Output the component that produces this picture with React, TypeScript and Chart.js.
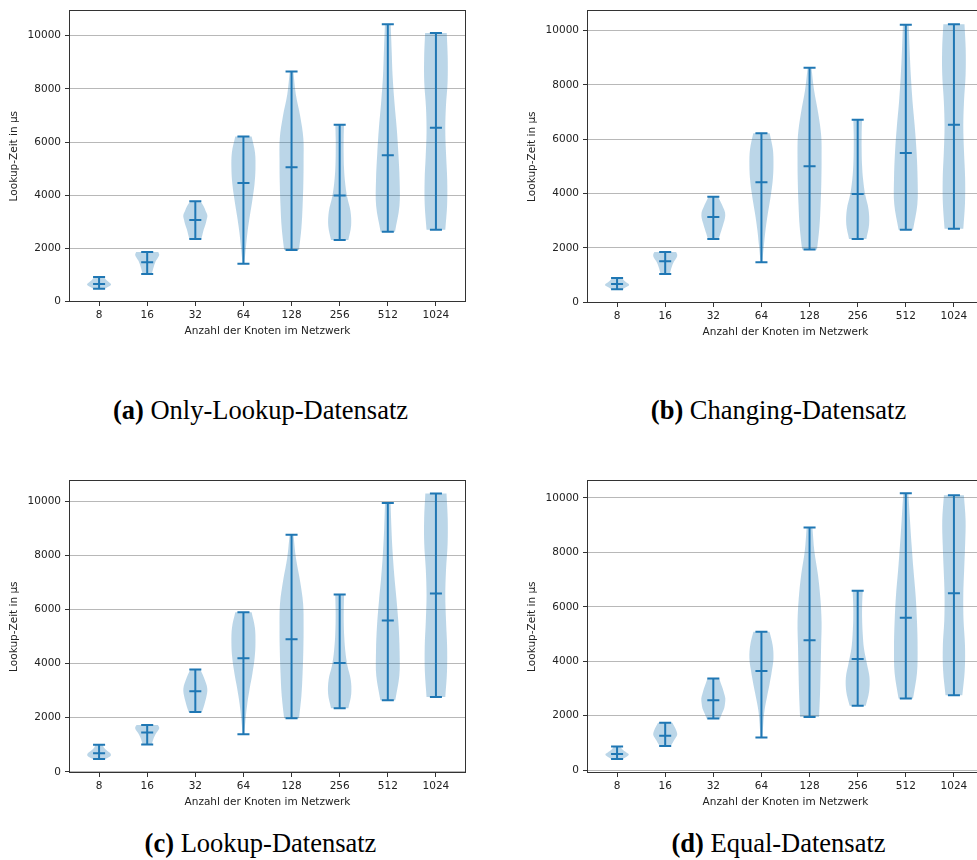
import React, { useEffect, useRef } from "react";
import { Chart, registerables } from "chart.js";

Chart.register(...registerables);

// ---------- data ----------
const categories = ["8", "16", "32", "64", "128", "256", "512", "1024"];
const yTicks = [0, 2000, 4000, 6000, 8000, 10000];

// (a) Only-Lookup-Datensatz
const minsA = [483, 1041, 2354, 1425, 1945, 2317, 2627, 2701];
const mediansA = [669, 1487, 3073, 4461, 5056, 3990, 5502, 6543];
const maxsA = [929, 1871, 3779, 6208, 8650, 6654, 10434, 10099];
// relative half-widths of each violin, sampled from bottom (min) to top (max)
const widthsA = [
  [0.45, 0.65, 0.88, 1.0, 0.9, 0.75, 0.6, 0.5, 0.45],
  [0.38, 0.44, 0.5, 0.57, 0.65, 0.75, 0.9, 1.0, 0.92],
  [0.5, 0.6, 0.7, 0.83, 0.93, 1.0, 0.85, 0.68, 0.42],
  [0.07, 0.2, 0.34, 0.53, 0.74, 0.92, 1.0, 0.96, 0.68],
  [0.62, 0.82, 0.92, 0.98, 1.0, 0.98, 0.72, 0.35, 0.15],
  [0.72, 0.95, 0.9, 0.62, 0.45, 0.36, 0.33, 0.33, 0.36],
  [0.6, 0.97, 0.98, 0.88, 0.74, 0.55, 0.4, 0.32, 0.24],
  [0.78, 0.93, 0.94, 0.85, 0.78, 0.83, 0.97, 0.98, 0.9],
];

// (b) Changing-Datensatz
const minsB = [485, 1042, 2327, 1479, 1939, 2327, 2667, 2703];
const mediansB = [679, 1515, 3139, 4412, 5006, 3988, 5491, 6533];
const maxsB = [897, 1855, 3879, 6218, 8630, 6715, 10206, 10230];
const widthsB = [
  [0.45, 0.65, 0.88, 1.0, 0.92, 0.75, 0.6, 0.5, 0.45],
  [0.38, 0.44, 0.5, 0.58, 0.67, 0.8, 0.95, 1.0, 0.9],
  [0.45, 0.58, 0.72, 0.85, 0.97, 0.98, 0.82, 0.62, 0.4],
  [0.07, 0.2, 0.34, 0.53, 0.75, 0.93, 1.0, 0.95, 0.68],
  [0.62, 0.82, 0.92, 0.98, 1.0, 0.97, 0.72, 0.38, 0.16],
  [0.72, 0.95, 0.9, 0.62, 0.45, 0.36, 0.33, 0.33, 0.36],
  [0.6, 0.96, 0.98, 0.9, 0.75, 0.56, 0.42, 0.32, 0.24],
  [0.78, 0.92, 0.93, 0.84, 0.78, 0.84, 0.97, 0.98, 0.88],
];

// (c) Lookup-Datensatz
const minsC = [475, 1011, 2205, 1389, 1973, 2351, 2643, 2765];
const mediansC = [682, 1449, 2972, 4190, 4896, 4019, 5591, 6590];
const maxsC = [999, 1730, 3776, 5895, 8758, 6553, 9927, 10280];
const widthsC = [
  [0.5, 0.8, 0.98, 0.95, 0.78, 0.6, 0.45, 0.36, 0.32],
  [0.38, 0.44, 0.5, 0.58, 0.67, 0.8, 0.95, 1.0, 0.88],
  [0.55, 0.7, 0.82, 0.93, 1.0, 0.95, 0.8, 0.62, 0.42],
  [0.07, 0.18, 0.32, 0.52, 0.75, 0.93, 1.0, 0.95, 0.68],
  [0.62, 0.82, 0.92, 0.98, 1.0, 0.96, 0.7, 0.36, 0.16],
  [0.72, 0.96, 0.92, 0.64, 0.47, 0.38, 0.34, 0.34, 0.37],
  [0.62, 0.96, 0.98, 0.9, 0.74, 0.55, 0.4, 0.3, 0.23],
  [0.78, 0.92, 0.93, 0.84, 0.78, 0.84, 0.97, 0.98, 0.88],
];

// (d) Equal-Datensatz
const minsD = [412, 884, 1901, 1199, 1949, 2361, 2627, 2748];
const mediansD = [593, 1259, 2567, 3644, 4770, 4080, 5593, 6501];
const maxsD = [872, 1743, 3366, 5085, 8910, 6586, 10169, 10097];
const widthsD = [
  [0.48, 0.72, 0.9, 0.97, 0.8, 0.6, 0.45, 0.35, 0.3],
  [0.44, 0.6, 0.74, 0.9, 1.0, 0.95, 0.85, 0.72, 0.6],
  [0.56, 0.72, 0.9, 0.97, 1.0, 0.9, 0.78, 0.63, 0.49],
  [0.08, 0.15, 0.25, 0.45, 0.67, 0.86, 1.0, 0.93, 0.67],
  [0.79, 0.87, 0.92, 0.96, 1.0, 0.9, 0.7, 0.4, 0.24],
  [0.67, 0.95, 0.98, 0.75, 0.52, 0.42, 0.37, 0.37, 0.42],
  [0.6, 0.93, 0.98, 0.93, 0.82, 0.64, 0.48, 0.34, 0.21],
  [0.7, 0.9, 0.92, 0.8, 0.78, 0.85, 0.93, 0.97, 0.83],
];

// ---------- styling ----------
const BLUE = "#1f77b4";
const FILL = "rgba(31,119,180,0.3)";
const HALF = 0.25; // max half width of a violin (x units)
const CAP = 0.125; // half length of cap/median lines
const FONT = "'DejaVu Sans', sans-serif";
const TEXT = "#222";

const framePlugin = {
  id: "frame",
  afterDatasetsDraw(chart: any) {
    const { ctx, chartArea: a } = chart;
    ctx.save();
    ctx.strokeStyle = "#333";
    ctx.lineWidth = 1;
    const l = Math.round(a.left) + 0.5;
    const t = Math.round(a.top) + 0.5;
    const r = Math.round(a.right) - 0.5;
    const b = Math.round(a.bottom) - 0.5;
    ctx.strokeRect(l, t, r - l, b - t);
    ctx.restore();
  },
};

function buildDatasets(mins: number[], meds: number[], maxs: number[], widths: number[][]) {
  const lines: any[] = [];
  mins.forEach((mn, i) => {
    const p = i + 1;
    const mx = maxs[i];
    const md = meds[i];
    lines.push(
      { x: p, y: mn }, { x: p, y: mx }, { x: p, y: null },
      { x: p - CAP, y: mn }, { x: p + CAP, y: mn }, { x: p, y: null },
      { x: p - CAP, y: mx }, { x: p + CAP, y: mx }, { x: p, y: null },
      { x: p - CAP, y: md }, { x: p + CAP, y: md }, { x: p, y: null }
    );
  });
  const violins = mins.map((mn, i) => {
    const p = i + 1;
    const mx = maxs[i];
    const w = widths[i];
    const n = w.length - 1;
    const right = w.map((v, k) => ({ x: p + HALF * v, y: mn + ((mx - mn) * k) / n }));
    const left = w.map((v, k) => ({ x: p - HALF * v, y: mn + ((mx - mn) * k) / n })).reverse();
    const pts = [right[0], ...right, right[n], left[0], ...left, left[n]];
    return {
      type: "scatter",
      data: pts,
      showLine: true,
      fill: "shape",
      indexAxis: "y",
      backgroundColor: FILL,
      borderColor: "rgba(0,0,0,0)",
      borderWidth: 0,
      pointRadius: 0,
      pointHoverRadius: 0,
      tension: 0.35,
      order: 2,
    };
  });
  const lineSet = {
    type: "scatter",
    data: lines,
    showLine: true,
    fill: false,
    spanGaps: false,
    borderColor: BLUE,
    borderWidth: 2,
    borderCapStyle: "butt",
    pointRadius: 0,
    pointHoverRadius: 0,
    tension: 0,
    order: 1,
  };
  return [lineSet, ...violins];
}

type PanelCfg = {
  mins: number[];
  meds: number[];
  maxs: number[];
  widths: number[][];
  yMin: number;
  yMax: number;
  left: number;
  top: number;
  height: number;
  letter: string;
  caption: string;
  capCenter: number;
  capTop: number;
};

function Panel({ cfg }: { cfg: PanelCfg }) {
  const ref = useRef<HTMLCanvasElement | null>(null);
  useEffect(() => {
    if (!ref.current) return;
    const chart = new Chart(ref.current, {
      type: "scatter",
      data: { datasets: buildDatasets(cfg.mins, cfg.meds, cfg.maxs, cfg.widths) as any },
      options: {
        animation: false,
        responsive: false,
        devicePixelRatio: 1,
        events: [],
        layout: { padding: { top: 7, right: 24, bottom: 0, left: 0 } },
        plugins: { legend: { display: false }, tooltip: { enabled: false } },
        scales: {
          x: {
            type: "linear",
            min: 0.375,
            max: 8.625,
            afterBuildTicks: (s: any) => {
              s.ticks = categories.map((_, i) => ({ value: i + 1 }));
            },
            afterFit: (s: any) => {
              s.height = 43;
            },
            ticks: {
              callback: (v: any) => categories[Math.round(Number(v)) - 1],
              font: { family: FONT, size: 10.5 },
              color: TEXT,
              padding: 3,
              maxRotation: 0,
              autoSkip: false,
            },
            grid: {
              drawOnChartArea: false,
              drawTicks: true,
              tickLength: 4,
              tickColor: "#333",
              tickWidth: 1,
            },
            border: { display: false },
            title: {
              display: true,
              text: "Anzahl der Knoten im Netzwerk",
              font: { family: FONT, size: 10.5 },
              color: TEXT,
              padding: { top: 0, bottom: 7 },
            },
          },
          y: {
            type: "linear",
            min: cfg.yMin,
            max: cfg.yMax,
            afterBuildTicks: (s: any) => {
              s.ticks = yTicks.map((v) => ({ value: v }));
            },
            afterFit: (s: any) => {
              s.width = 69;
            },
            ticks: {
              callback: (v: any) => String(v),
              font: { family: FONT, size: 10.5 },
              color: TEXT,
              padding: 4,
            },
            grid: {
              color: "#b8b8b8",
              lineWidth: 1,
              drawTicks: true,
              tickLength: 4,
              tickColor: "#333",
              tickWidth: 1,
            },
            border: { display: false },
            title: {
              display: true,
              text: "Lookup-Zeit in µs",
              font: { family: FONT, size: 10.5 },
              color: TEXT,
              padding: { top: 8, bottom: 0 },
            },
          },
        },
      } as any,
      plugins: [framePlugin],
    });
    return () => chart.destroy();
  }, [cfg]);

  return (
    <>
      <canvas
        ref={ref}
        width={490}
        height={cfg.height}
        style={{ position: "absolute", left: cfg.left, top: cfg.top, width: 490, height: cfg.height }}
      />
      <div
        style={{
          position: "absolute",
          left: cfg.capCenter - 200,
          top: cfg.capTop,
          width: 400,
          textAlign: "center",
          fontFamily: "'Liberation Serif', 'Times New Roman', serif",
          fontSize: "26.5px",
          lineHeight: "26.5px",
          color: "#000",
          whiteSpace: "nowrap",
        }}
      >
        <span style={{ fontWeight: "bold" }}>({cfg.letter})</span> {cfg.caption}
      </div>
    </>
  );
}

const panels: PanelCfg[] = [
  { mins: minsA, meds: mediansA, maxs: maxsA, widths: widthsA, yMin: -11, yMax: 10955, left: 0, top: 0, height: 345, letter: "a", caption: "Only-Lookup-Datensatz", capCenter: 260.5, capTop: 397 },
  { mins: minsB, meds: mediansB, maxs: maxsB, widths: widthsB, yMin: -24, yMax: 10740, left: 518, top: 0, height: 346, letter: "b", caption: "Changing-Datensatz", capCenter: 778.5, capTop: 397 },
  { mins: minsC, meds: mediansC, maxs: maxsC, widths: widthsC, yMin: -45, yMax: 10767, left: 0, top: 470, height: 346, letter: "c", caption: "Lookup-Datensatz", capCenter: 260.5, capTop: 830 },
  { mins: minsD, meds: mediansD, maxs: maxsD, widths: widthsD, yMin: -105, yMax: 10645, left: 518, top: 470, height: 346, letter: "d", caption: "Equal-Datensatz", capCenter: 778.5, capTop: 830 },
];

export default function App() {
  return (
    <div
      style={{
        position: "absolute",
        left: 0,
        top: 0,
        width: 977,
        height: 860,
        overflow: "hidden",
        background: "#fff",
      }}
    >
      {panels.map((p) => (
        <Panel key={p.letter} cfg={p} />
      ))}
    </div>
  );
}
